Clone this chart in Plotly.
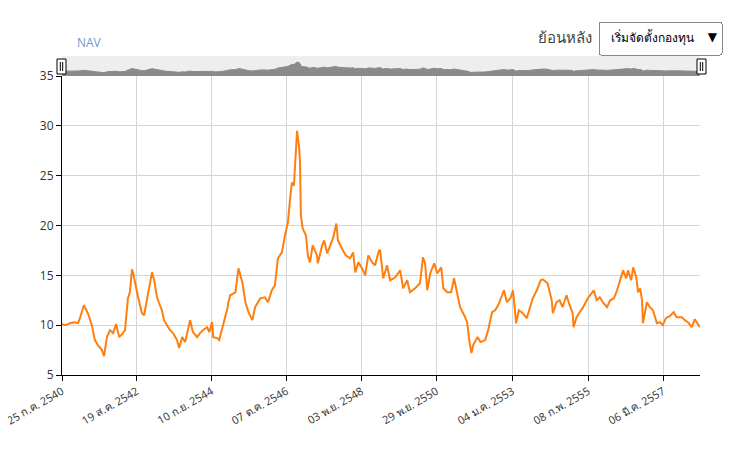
import plotly.graph_objects as go

dates = [
    "1997-07-25", "1997-09-03", "1997-10-13", "1997-11-23", "1998-01-03", "1998-01-22",
    "1998-03-03", "1998-03-21", "1998-04-12", "1998-05-22", "1998-06-22", "1998-07-22",
    "1998-09-01", "1998-09-22", "1998-10-22", "1998-11-22", "1998-12-22", "1999-01-22",
    "1999-02-22", "1999-04-01", "1999-04-22", "1999-05-13", "1999-05-22", "1999-06-10",
    "1999-07-01", "1999-07-13", "1999-08-10", "1999-09-01", "1999-10-10", "1999-11-01",
    "1999-11-28", "1999-12-19", "2000-01-19", "2000-02-10", "2000-03-10", "2000-03-28",
    "2000-04-28", "2000-05-19", "2000-06-19", "2000-07-19", "2000-08-19", "2000-09-28",
    "2000-10-19", "2000-11-19", "2000-12-19", "2001-01-19", "2001-02-07", "2001-03-07",
    "2001-04-19", "2001-05-19", "2001-06-16", "2001-07-28", "2001-08-19", "2001-09-16",
    "2001-09-28", "2001-11-07", "2001-11-28", "2001-12-28", "2002-01-28", "2002-02-19",
    "2002-02-28", "2002-03-19", "2002-05-10", "2002-06-10", "2002-07-19", "2002-08-19",
    "2002-09-19", "2002-10-28", "2002-11-25", "2003-01-16", "2003-03-04", "2003-04-04",
    "2003-05-13", "2003-06-13", "2003-07-13", "2003-08-22", "2003-09-22", "2003-10-22",
    "2003-11-13", "2003-12-01", "2003-12-22", "2004-01-13", "2004-01-22", "2004-02-13",
    "2004-02-22", "2004-03-01", "2004-03-19", "2004-04-22", "2004-05-10", "2004-06-01",
    "2004-06-28", "2004-08-10", "2004-08-19", "2004-10-01", "2004-10-22", "2004-11-22",
    "2004-12-22", "2005-01-22", "2005-02-22", "2005-03-10", "2005-04-19", "2005-05-28",
    "2005-07-10", "2005-08-10", "2005-09-01", "2005-10-01", "2005-11-10", "2005-12-10",
    "2006-01-10", "2006-02-19", "2006-03-19", "2006-04-28", "2006-05-10", "2006-06-10",
    "2006-07-19", "2006-08-19", "2006-10-10", "2006-11-28", "2006-12-28", "2007-02-07",
    "2007-03-07", "2007-04-28", "2007-06-16", "2007-07-16", "2007-08-07", "2007-08-28",
    "2007-09-28", "2007-11-07", "2007-12-07", "2008-01-16", "2008-02-07", "2008-03-16",
    "2008-04-25", "2008-05-25", "2008-06-25", "2008-07-25", "2008-09-04", "2008-10-04",
    "2008-10-25", "2008-11-16", "2008-12-04", "2009-01-16", "2009-02-16", "2009-04-04",
    "2009-05-04", "2009-06-13", "2009-07-13", "2009-08-13", "2009-09-22", "2009-10-10",
    "2009-11-10", "2009-12-19", "2010-01-10", "2010-02-10", "2010-03-10", "2010-04-19",
    "2010-05-28", "2010-06-28", "2010-07-28", "2010-09-07", "2010-10-16", "2010-11-07",
    "2010-12-25", "2011-02-04", "2011-02-16", "2011-03-25", "2011-04-25", "2011-05-25",
    "2011-07-04", "2011-08-04", "2011-09-04", "2011-09-13", "2011-10-13", "2011-11-13",
    "2011-12-13", "2012-02-04", "2012-03-13", "2012-04-04", "2012-05-04", "2012-06-04",
    "2012-07-04", "2012-08-16", "2012-09-16", "2012-10-25", "2012-11-25", "2013-01-04",
    "2013-01-25", "2013-02-25", "2013-03-16", "2013-04-16", "2013-05-07", "2013-06-07",
    "2013-06-25", "2013-07-16", "2013-08-04", "2013-08-13", "2013-09-22", "2013-10-22",
    "2013-11-22", "2014-01-01", "2014-02-01", "2014-03-01", "2014-04-01", "2014-05-10",
    "2014-06-19", "2014-07-19", "2014-09-10", "2014-10-10", "2014-11-10", "2014-12-19",
    "2015-01-19", "2015-02-19", "2015-03-10",
]

nav = [
    10.1, 10.0, 10.2, 10.3, 10.2, 10.7,
    12.0, 11.6, 11.2, 10.0, 8.5, 8.0,
    7.5, 6.9, 8.8, 9.5, 9.2, 10.1,
    8.8, 9.2, 9.5, 11.8, 12.7, 13.3,
    15.6, 15.2, 13.7, 12.8, 11.2, 11.0,
    12.5, 13.7, 15.3, 14.5, 12.8, 12.3,
    11.5, 10.5, 10.0, 9.5, 9.2, 8.5,
    7.7, 8.8, 8.3, 9.7, 10.5, 9.3,
    8.8, 9.2, 9.5, 9.8, 9.3, 10.3,
    8.8, 8.7, 8.5, 9.7, 10.8, 11.7,
    12.3, 13.0, 13.3, 15.7, 14.3, 12.3,
    11.3, 10.5, 11.8, 12.7, 12.8, 12.3,
    13.5, 14.0, 16.7, 17.3, 19.0, 20.3,
    22.7, 24.3, 24.0, 28.3, 29.5, 27.8,
    26.0, 21.0, 19.7, 19.0, 17.0, 16.3,
    18.0, 17.0, 16.2, 18.0, 18.5, 17.2,
    18.0, 18.8, 20.2, 18.5, 17.7, 17.0,
    16.7, 17.3, 15.3, 16.3, 15.7, 15.0,
    17.0, 16.3, 16.0, 17.5, 17.5, 14.7,
    16.0, 14.5, 14.8, 15.5, 13.7, 14.5,
    13.3, 13.7, 14.2, 16.8, 16.2, 13.5,
    15.2, 16.2, 15.2, 15.8, 13.7, 13.3,
    13.3, 14.7, 13.2, 11.8, 11.0, 10.3,
    8.5, 7.2, 8.0, 8.8, 8.3, 8.5,
    9.5, 11.3, 11.5, 12.0, 13.0, 13.5,
    12.3, 12.8, 13.5, 10.2, 11.5, 11.2,
    10.7, 11.8, 12.7, 13.5, 14.5, 14.6,
    14.2, 12.5, 11.2, 12.3, 12.5, 11.8,
    13.0, 12.0, 11.2, 9.8, 10.8, 11.3,
    11.7, 12.7, 13.2, 13.5, 12.5, 12.8,
    12.3, 11.8, 12.5, 12.7, 13.5, 14.8,
    15.5, 14.7, 15.5, 14.5, 15.8, 14.8,
    13.3, 13.7, 12.5, 10.2, 12.3, 11.8,
    11.5, 10.2, 10.3, 10.0, 10.7, 10.9,
    11.3, 10.8, 10.8, 10.5, 10.3, 9.8,
    10.6, 10.1, 9.8,
]

tick_dates = ["1997-07-25", "1999-08-19", "2001-09-10", "2003-10-07", "2005-11-03",
              "2007-11-29", "2010-01-04", "2012-02-08", "2014-03-06"]
tick_labels = ["25 ก.ค. 2540", "19 ส.ค. 2542", "10 ก.ย. 2544", "07 ต.ค. 2546", "03 พ.ย. 2548",
               "29 พ.ย. 2550", "04 ม.ค. 2553", "08 ก.พ. 2555", "06 มี.ค. 2557"]
y_ticks = [5, 10, 15, 20, 25, 30, 35]
x_range = ["1997-07-25", "2015-03-12"]

# The page body adds an 8px offset; lay out in screen pixels and compensate.
OFF = 8
SCR_W, SCR_H = 743, 449
W, H = SCR_W - OFF, SCR_H - OFF
PL, PR, PT, PB = 62, 700, 56, 375          # plot box in screen pixels
ML, MR, MT, MB = PL - OFF, OFF + W - PR, PT - OFF, OFF + H - PB
PW, PH = PR - PL, PB - PT
split = 1 - 20 / PH

def px(x):
    return (x - PL) / PW

def py(y):
    return (PB - y) / PH

FONT = "Open Sans, Noto Sans, DejaVu Sans, sans-serif"

fig = go.Figure()
fig.add_trace(go.Scatter(
    x=dates, y=nav, mode="lines", xaxis="x", yaxis="y",
    line=dict(color="#ff7f0e", width=2), hoverinfo="x+y", showlegend=False,
))
fig.add_trace(go.Scatter(
    x=dates, y=nav, mode="lines", xaxis="x2", yaxis="y2",
    fill="tozeroy", fillcolor="#8a8a8a",
    line=dict(color="#8a8a8a", width=1), hoverinfo="skip", showlegend=False,
))

shapes = [
    dict(type="rect", xref="x2 domain", yref="y2 domain", x0=0, x1=1, y0=0, y1=1,
         fillcolor="#eeeeee", line=dict(width=0), layer="below"),
    dict(type="line", xref="paper", yref="paper", x0=px(737), x1=px(737),
         y0=py(OFF + H), y1=py(OFF),
         line=dict(color="#dddddd", width=1)),
]
for cx in (61.5, 701.5):
    shapes.append(dict(type="rect", xref="paper", yref="paper",
                       x0=px(cx - 4.5), x1=px(cx + 4.5), y0=py(74), y1=py(59),
                       fillcolor="white", line=dict(color="black", width=1)))
    for dx in (-1.2, 1.2):
        shapes.append(dict(type="line", xref="paper", yref="paper",
                           x0=px(cx + dx), x1=px(cx + dx), y0=py(71), y1=py(62),
                           line=dict(color="black", width=1)))

fig.update_layout(
    width=W, height=H,
    margin=dict(l=ML, r=MR, t=MT, b=MB, autoexpand=False),
    paper_bgcolor="white", plot_bgcolor="white",
    font=dict(family=FONT, size=11, color="#333333"),
    showlegend=False,
    xaxis=dict(
        domain=[0, 1], anchor="y", type="date", range=x_range, automargin=False,
        tickmode="array", tickvals=tick_dates, ticktext=tick_labels, tickangle=-30,
        ticklabeloverflow="allow",
        showgrid=True, gridcolor="#d4d4d4", gridwidth=1,
        showline=True, linecolor="black", linewidth=1,
        ticks="outside", ticklen=5, tickcolor="black",
        tickfont=dict(size=11, color="#333333"), zeroline=False,
    ),
    yaxis=dict(
        domain=[0, split], anchor="x", range=[5, 35], automargin=False,
        tickmode="array", tickvals=y_ticks,
        showgrid=True, gridcolor="#d4d4d4", gridwidth=1,
        showline=True, linecolor="black", linewidth=1,
        ticks="outside", ticklen=5, tickcolor="black",
        tickfont=dict(size=12, color="#333333"), zeroline=False,
    ),
    xaxis2=dict(domain=[0, 1], anchor="y2", type="date", range=x_range, visible=False),
    yaxis2=dict(domain=[split, 1], anchor="x2", range=[0, 42], visible=False),
    shapes=shapes,
    annotations=[
        dict(text="NAV", xref="paper", yref="paper", x=px(89), y=py(43),
             xanchor="center", yanchor="middle", showarrow=False,
             font=dict(family=FONT, size=12, color="#6b9bc8")),
        dict(text="ย้อนหลัง", xref="paper", yref="paper", x=px(594), y=py(37),
             xanchor="right", yanchor="middle", showarrow=False,
             font=dict(family=FONT, size=15, color="#444444")),
    ],
    updatemenus=[dict(
        type="dropdown", direction="down", active=0,
        x=px(721), y=py(21), xanchor="right", yanchor="top",
        bgcolor="white", bordercolor="#888888", borderwidth=1,
        font=dict(family=FONT, size=12, color="black"),
        pad=dict(l=0, r=0, t=0, b=0),
        buttons=[dict(label="เริ่มจัดตั้งกองทุน", method="relayout",
                      args=[{"xaxis.range": x_range}])],
    )],
)

fig.write_html("out.html")
